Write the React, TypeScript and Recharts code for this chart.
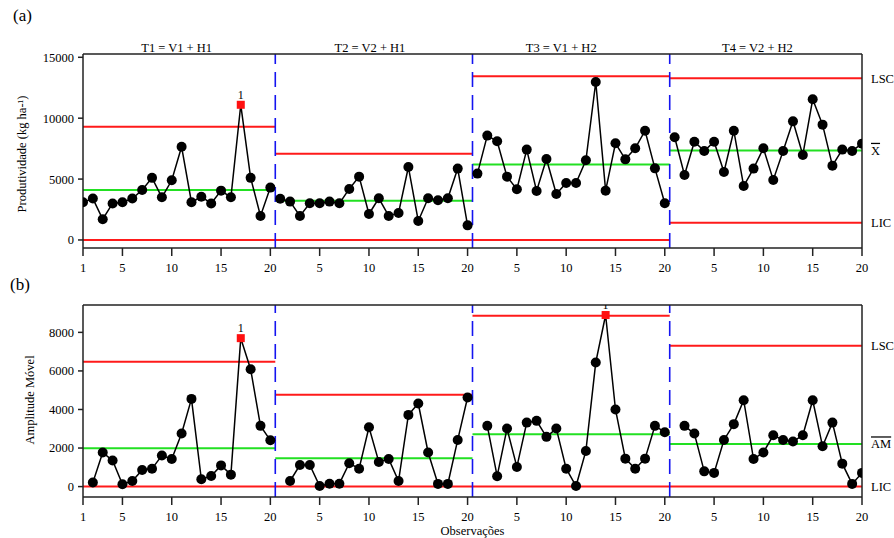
import { LineChart, Line, XAxis, YAxis, ReferenceLine } from 'recharts'

const FONT = "'Liberation Serif', 'Times New Roman', Times, serif"

const phaseTitles = ['T1 = V1 + H1', 'T2 = V2 + H1', 'T3 = V1 + H2', 'T4 = V2 + H2']
const titleAt = [9.5, 29.1, 48.5, 68.4]
const obsTicks = [1, 5, 10, 15, 20, 25, 30, 35, 40, 45, 50, 55, 60, 65, 70, 75, 80]
const phaseEdges = [1, 20.5, 40.5, 60.5, 80]

// produtividade (kg ha-1), 20 observações por tratamento
const prodT1 = [3100, 3400, 1700, 3000, 3100, 3400, 4100, 5100, 3500, 4900, 7650, 3100, 3550, 3000, 4050, 3500, 11100, 5100, 1970, 4300]
const prodT2 = [3390, 3150, 1970, 3010, 3010, 3150, 3010, 4190, 5200, 2130, 3420, 1970, 2220, 5990, 1560, 3420, 3260, 3420, 5860, 1200]
const prodT3 = [5450, 8570, 8100, 5200, 4160, 7420, 4020, 6650, 3780, 4680, 4680, 6540, 12970, 4050, 7940, 6620, 7530, 8970, 5880, 3010]
const prodT4 = [8430, 5340, 8070, 7310, 8070, 5580, 8970, 4430, 5860, 7530, 4930, 7300, 9740, 6980, 11550, 9470, 6100, 7420, 7310, 7910]

// amplitude móvel (a 1a observação de cada tratamento não tem valor)
const amT1 = [null, 210, 1770, 1350, 120, 290, 860, 930, 1610, 1430, 2750, 4550, 380, 550, 1100, 620, 7700, 6090, 3150, 2400]
const amT2 = [null, 290, 1120, 1120, 30, 150, 150, 1210, 930, 3080, 1280, 1430, 290, 3720, 4310, 1770, 140, 140, 2420, 4620]
const amT3 = [null, 3150, 540, 3010, 1020, 3320, 3410, 2580, 3010, 930, 30, 1850, 6440, 8900, 4000, 1450, 930, 1450, 3150, 2820]
const amT4 = [null, 3150, 2750, 790, 710, 2420, 3240, 4480, 1430, 1770, 2660, 2420, 2340, 2660, 4480, 2090, 3320, 1190, 140, 710]

// limites por tratamento
const lscA = [9290, 7070, 13440, 13280]
const xbarA = [4100, 3220, 6200, 7350]
const licA = [0, 0, 0, 1420]
const lscB = [6470, 4760, 8860, 7300]
const amBar = [1990, 1470, 2720, 2210]
const licB = [0, 0, 0, 0]

// pontos fora de controle (nº global da observação)
const outA = [17]
const outB = [17, 54]

const prod = [prodT1, prodT2, prodT3, prodT4]
const am = [amT1, amT2, amT3, amT4]

const rows = prod.flatMap((vals, p) =>
  vals.map((v, i) => {
    const r: any = { obs: p * 20 + i + 1 }
    r['a' + p] = v
    r['b' + p] = am[p][i]
    return r
  })
)

const tickStyle = { fill: '#000', fontSize: 12.5, fontFamily: FONT }

function SideTick(props: any) {
  const { x, y, index, labels, overIdx } = props
  return (
    <text x={x} y={y} dy="0.35em" textAnchor="start" fill="#000" fontSize={12.5} fontFamily={FONT}>
      <tspan textDecoration={index === overIdx ? 'overline' : undefined}>{labels[index]}</tspan>
    </text>
  )
}

function makeDot(out: number[], key: string) {
  return (p: any) => {
    const k = `${key}-${p.index}`
    if (p.cy == null || p.value == null || p.payload?.[key] == null) return <g key={k} />
    if (out.includes(p.payload.obs)) {
      return (
        <g key={k}>
          <rect x={p.cx - 4} y={p.cy - 4} width={8} height={8} fill="#ff1010" />
          <text x={p.cx} y={p.cy - 6} textAnchor="middle" fontSize={12} fontFamily={FONT} fill="#000" stroke="none">1</text>
        </g>
      )
    }
    return <circle key={k} cx={p.cx} cy={p.cy} r={5} fill="#000" />
  }
}

interface PanelProps {
  prefix: string
  height: number
  marginTop: number
  topH: number
  bottomH: number
  domain: [number, number]
  yTicks: number[]
  lsc: number[]
  center: number[]
  lic: number[]
  out: number[]
  sideLabels: string[]
  showTitles?: boolean
  xLabel?: string
}

function ControlPanel(pr: PanelProps) {
  const limits = [
    { vals: pr.lsc, color: '#ff1a1a' },
    { vals: pr.center, color: '#22e022' },
    { vals: pr.lic, color: '#ff1a1a' },
  ]
  return (
    <LineChart width={894} height={pr.height} data={rows} margin={{ top: pr.marginTop, right: 0, bottom: 0, left: 0 }} style={{ fontFamily: FONT }}>
      <XAxis
        xAxisId="top"
        orientation="top"
        type="number"
        domain={[1, 80]}
        ticks={pr.showTitles ? titleAt : []}
        interval={0}
        tickFormatter={(_v: number, i: number) => phaseTitles[i]}
        tickLine={false}
        tickSize={0}
        tickMargin={2}
        height={pr.topH}
        stroke="#222"
        strokeWidth={1.5}
        tick={tickStyle}
        allowDataOverflow
      />
      <XAxis
        dataKey="obs"
        type="number"
        domain={[1, 80]}
        ticks={obsTicks}
        interval={0}
        tickFormatter={(v: number) => String(((v - 1) % 20) + 1)}
        tickSize={8}
        tickMargin={7}
        height={pr.bottomH}
        stroke="#222"
        strokeWidth={1.5}
        tick={tickStyle}
        allowDataOverflow
        label={pr.xLabel ? { value: pr.xLabel, position: 'insideBottom', offset: 3, fill: '#000', fontSize: 12.5, fontFamily: FONT } : undefined}
      />
      <YAxis
        type="number"
        domain={pr.domain}
        ticks={pr.yTicks}
        interval={0}
        width={83}
        tickSize={5}
        tickMargin={4}
        stroke="#222"
        strokeWidth={1.5}
        tick={tickStyle}
        allowDataOverflow
      />
      <YAxis
        yAxisId="right"
        orientation="right"
        type="number"
        domain={pr.domain}
        ticks={[pr.lsc[3], pr.center[3], pr.lic[3]]}
        interval={0}
        width={32}
        tickLine={false}
        tickSize={0}
        tickMargin={9}
        stroke="#222"
        strokeWidth={1.5}
        tick={<SideTick labels={pr.sideLabels} overIdx={1} />}
        allowDataOverflow
      />
      {limits.map((l, li) =>
        l.vals.map((v, p) => (
          <ReferenceLine
            key={`${pr.prefix}-l${li}-${p}`}
            segment={[
              { x: phaseEdges[p], y: v },
              { x: phaseEdges[p + 1], y: v },
            ]}
            stroke={l.color}
            strokeWidth={2}
          />
        ))
      )}
      {phaseEdges.slice(1, 4).map((x) => (
        <ReferenceLine key={`${pr.prefix}-v${x}`} x={x} stroke="#1414f0" strokeWidth={1.6} strokeDasharray="15 8" />
      ))}
      {[0, 1, 2, 3].map((p) => (
        <Line
          key={`${pr.prefix}${p}`}
          dataKey={`${pr.prefix}${p}`}
          stroke="#000"
          strokeWidth={1.5}
          dot={makeDot(pr.out, `${pr.prefix}${p}`)}
          activeDot={false}
          isAnimationActive={false}
          connectNulls={false}
        />
      ))}
    </LineChart>
  )
}

const absText = (left: number, top: number, size: number): React.CSSProperties => ({
  position: 'absolute',
  left,
  top,
  fontSize: size,
  lineHeight: `${size}px`,
  whiteSpace: 'nowrap',
})

const vText = (cx: number, cy: number): React.CSSProperties => ({
  position: 'absolute',
  left: cx,
  top: cy,
  fontSize: 12.5,
  lineHeight: '14px',
  whiteSpace: 'nowrap',
  transform: 'translate(-50%, -50%) rotate(-90deg)',
})

export default function App() {
  return (
    <div style={{ position: 'relative', width: 894, height: 538, fontFamily: FONT, color: '#000', background: '#fff' }}>
      <style>{`body{margin:0} .recharts-wrapper text, .recharts-wrapper tspan { font-family: ${FONT} !important; }`}</style>
      <div style={{ position: 'absolute', left: 0, top: 0 }}>
        <ControlPanel
          prefix="a"
          height={280}
          marginTop={34}
          topH={20}
          bottomH={32}
          domain={[-660, 15270]}
          yTicks={[0, 5000, 10000, 15000]}
          lsc={lscA}
          center={xbarA}
          lic={licA}
          out={outA}
          sideLabels={['LSC', 'X', 'LIC']}
          showTitles
        />
      </div>
      <div style={{ position: 'absolute', left: 0, top: 280 }}>
        <ControlPanel
          prefix="b"
          height={258}
          marginTop={20}
          topH={5}
          bottomH={41}
          domain={[-540, 9420]}
          yTicks={[0, 2000, 4000, 6000, 8000]}
          lsc={lscB}
          center={amBar}
          lic={licB}
          out={outB}
          sideLabels={['LSC', 'AM', 'LIC']}
          xLabel="Observações"
        />
      </div>
      <div style={absText(13, 7, 17)}>(a)</div>
      <div style={absText(10, 276, 17)}>(b)</div>
      <div style={vText(22, 154)}>Produtividade (kg ha-¹)</div>
      <div style={vText(30, 400)}>Amplitude Móvel</div>
    </div>
  )
}
